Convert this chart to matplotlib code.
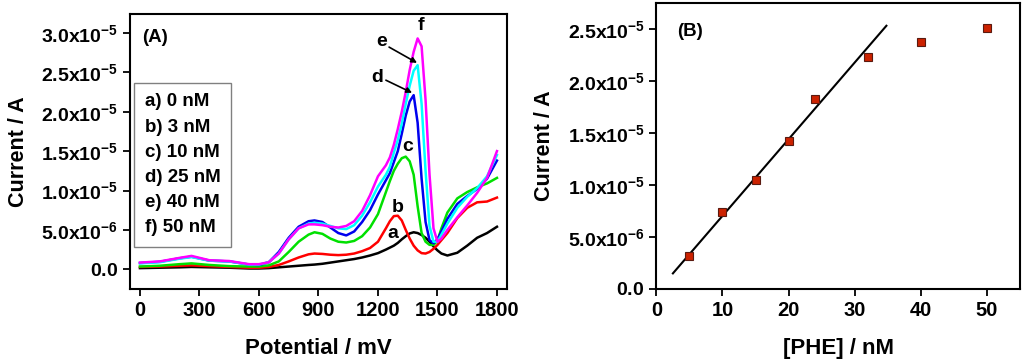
import numpy as np
import matplotlib
matplotlib.use('Agg')
import matplotlib.pyplot as plt
from matplotlib.ticker import FuncFormatter, FixedLocator

plt.rcParams['font.family'] = 'Liberation Sans'
plt.rcParams['font.weight'] = 'bold'
plt.rcParams['mathtext.fontset'] = 'custom'
plt.rcParams['mathtext.rm'] = 'Liberation Sans:bold'
plt.rcParams['mathtext.bf'] = 'Liberation Sans:bold'
plt.rcParams['mathtext.it'] = 'Liberation Sans:bold'

# panel A: DPV curves (current in 1e-6 A)
potential = [0, 100, 200, 260, 350, 450, 550, 600, 650, 700, 750, 800, 850, 880, 920, 960,
             1000, 1040, 1080, 1120, 1160, 1200, 1240, 1260, 1280, 1300, 1320, 1340, 1360,
             1380, 1400, 1420, 1440, 1460, 1480, 1500, 1520, 1550, 1600, 1650, 1700, 1750, 1800]

cur_a = [0.15, 0.2, 0.25, 0.3, 0.25, 0.2, 0.1, 0.1, 0.15, 0.25, 0.35, 0.45, 0.55, 0.6, 0.7, 0.85,
         1.0, 1.15, 1.3, 1.5, 1.75, 2.05, 2.5, 2.75, 3.0, 3.35, 3.8, 4.2, 4.55,
         4.7, 4.6, 4.35, 4.0, 3.5, 2.9, 2.4, 2.0, 1.75, 2.1, 3.0, 4.0, 4.6, 5.4]
cur_b = [0.3, 0.35, 0.45, 0.5, 0.4, 0.3, 0.2, 0.2, 0.3, 0.55, 1.0, 1.5, 1.9, 2.0, 1.95, 1.85,
         1.8, 1.85, 2.0, 2.3, 2.7, 3.5, 5.2, 6.1, 6.75, 6.8, 6.2, 5.0, 3.9,
         3.0, 2.4, 2.05, 2.0, 2.2, 2.6, 3.1, 3.7, 4.6, 6.5, 7.8, 8.5, 8.6, 9.1]
cur_c = [0.35, 0.45, 0.65, 0.75, 0.55, 0.4, 0.35, 0.35, 0.5, 1.0, 2.2, 3.5, 4.4, 4.7, 4.5, 3.9,
         3.5, 3.4, 3.6, 4.2, 5.3, 7.0, 9.8, 11.2, 12.5, 13.4, 14.1, 14.3, 13.7,
         12.0, 8.0, 4.6, 3.5, 3.1, 3.1, 3.6, 5.2, 7.2, 9.0, 9.8, 10.4, 10.9, 11.6]
cur_d = [0.8, 0.95, 1.4, 1.6, 1.1, 1.0, 0.6, 0.55, 0.9, 2.2, 4.0, 5.4, 6.1, 6.2, 6.0, 5.3,
         4.6, 4.3, 4.8, 6.0, 7.5, 9.5, 11.3, 12.2, 13.6, 15.0, 17.2, 19.5, 21.3,
         22.1, 18.6, 11.5, 6.0, 3.7, 3.3, 3.8, 4.8, 6.4, 8.3, 9.3, 10.2, 11.5, 13.8]
cur_e = [0.75, 0.9, 1.35, 1.55, 1.1, 1.0, 0.6, 0.6, 0.9, 2.0, 3.8, 5.2, 5.8, 5.9, 5.8, 5.5,
         5.2, 5.1, 5.6, 6.8, 8.5, 10.5, 12.0, 13.0, 14.8, 16.4, 18.5, 21.0, 23.3,
         25.2, 25.9, 21.0, 12.5, 5.5, 3.5, 3.5, 4.4, 5.8, 7.8, 9.2, 10.3, 11.8, 14.5]
cur_f = [0.85, 1.0, 1.45, 1.7, 1.15, 1.05, 0.65, 0.65, 0.9, 2.0, 3.8, 5.2, 5.7, 5.7, 5.6, 5.4,
         5.3, 5.5, 6.1, 7.4, 9.4, 11.8, 13.2, 14.2, 15.8, 17.8, 20.0, 22.5, 25.3,
         27.6, 29.3, 28.3, 21.5, 12.0, 5.2, 3.5, 3.9, 5.0, 6.6, 8.1, 9.7, 11.6, 15.0]

curves = [cur_a, cur_b, cur_c, cur_d, cur_e, cur_f]
colors = ['black', '#ff0000', '#00e000', '#0000ee', '#00ffff', '#ff00ff']
labels = ['a) 0 nM', 'b) 3 nM', 'c) 10 nM', 'd) 25 nM', 'e) 40 nM', 'f) 50 nM']

# panel B: calibration
conc = [5, 10, 15, 20, 24, 32, 40, 50]
peak_cur = [3.2e-6, 7.4e-6, 1.05e-5, 1.42e-5, 1.83e-5, 2.23e-5, 2.37e-5, 2.51e-5]
fit_x = [2.5, 34.8]
fit_y = [1.5e-6, 2.53e-5]


def sci_fmt(v, pos):
    if abs(v) < 1e-12:
        return r'$\mathrm{0.0}$'
    exp = int(np.floor(np.log10(abs(v))))
    mant = v / 10**exp
    return r'$\mathrm{%.1fx10^{%d}}$' % (mant, exp)


fig = plt.figure(figsize=(10.24, 3.59), dpi=100)
axA = fig.add_axes([0.127, 0.195, 0.368, 0.766])
axB = fig.add_axes([0.641, 0.195, 0.355, 0.797])

for y, c in zip(curves, colors):
    axA.plot(potential, np.array(y) * 1e-6, color=c, lw=1.8)

axA.set_xlim(-50, 1850)
axA.set_ylim(-2.5e-6, 3.24e-5)
axA.xaxis.set_major_locator(FixedLocator([0, 300, 600, 900, 1200, 1500, 1800]))
axA.yaxis.set_major_locator(FixedLocator(np.arange(0, 3.01e-5, 5e-6)))
axA.yaxis.set_major_formatter(FuncFormatter(sci_fmt))
axA.set_xlabel('Potential / mV', fontsize=16, fontweight='bold', labelpad=13)
axA.set_ylabel('Current / A', fontsize=15.5, fontweight='bold', labelpad=9)
axA.text(0.032, 0.916, '(A)', transform=axA.transAxes, fontsize=13.5, fontweight='bold', va='center')

handles = [plt.Line2D([], [], color=c, lw=0) for c in colors]
leg = axA.legend(handles, labels, loc='upper left', bbox_to_anchor=(0.011, 0.749),
                 handlelength=0, handletextpad=0, fontsize=13.5, frameon=True, fancybox=False,
                 edgecolor='#808080', framealpha=1, borderpad=0.55, labelspacing=0.43,
                 borderaxespad=0)
leg.get_frame().set_linewidth(1.0)

txt = dict(fontsize=14, fontweight='bold', ha='center', va='center')
axA.text(1417, 31.0e-6, 'f', **txt)
axA.text(1218, 28.9e-6, 'e', **txt)
axA.text(1196, 24.4e-6, 'd', **txt)
axA.text(1351, 15.6e-6, 'c', **txt)
axA.text(1301, 7.9e-6, 'b', **txt)
axA.text(1276, 4.6e-6, 'a', **txt)
arrow = dict(arrowstyle='-|>', color='black', lw=1.2, mutation_scale=8, shrinkA=0, shrinkB=0)
axA.annotate('', xy=(1397, 26.2e-6), xytext=(1256, 28.2e-6), arrowprops=arrow)
axA.annotate('', xy=(1372, 22.4e-6), xytext=(1240, 24.0e-6), arrowprops=arrow)

axB.plot(fit_x, fit_y, color='black', lw=1.5)
axB.plot(conc, peak_cur, 's', ms=6, mfc='#cc2200', mec='#5a1a10', mew=0.8)
axB.set_xlim(0, 55)
axB.set_ylim(0, 2.75e-5)
axB.xaxis.set_major_locator(FixedLocator([0, 10, 20, 30, 40, 50]))
axB.yaxis.set_major_locator(FixedLocator(np.arange(0, 2.51e-5, 5e-6)))
axB.yaxis.set_major_formatter(FuncFormatter(sci_fmt))
axB.set_xlabel('[PHE] / nM', fontsize=16, fontweight='bold', labelpad=13)
axB.set_ylabel('Current / A', fontsize=15.5, fontweight='bold', labelpad=9)
axB.text(0.058, 0.90, '(B)', transform=axB.transAxes, fontsize=13.5, fontweight='bold', va='center')

for ax in (axA, axB):
    for s in ax.spines.values():
        s.set_linewidth(1.5)
    ax.tick_params(direction='out', length=5, width=1.3, top=False, right=False)
    ax.tick_params(axis='x', labelsize=14.5)
    ax.tick_params(axis='y', labelsize=14)
    for lab in ax.get_xticklabels() + ax.get_yticklabels():
        lab.set_fontweight('bold')

fig.savefig('out.png', dpi=100)
